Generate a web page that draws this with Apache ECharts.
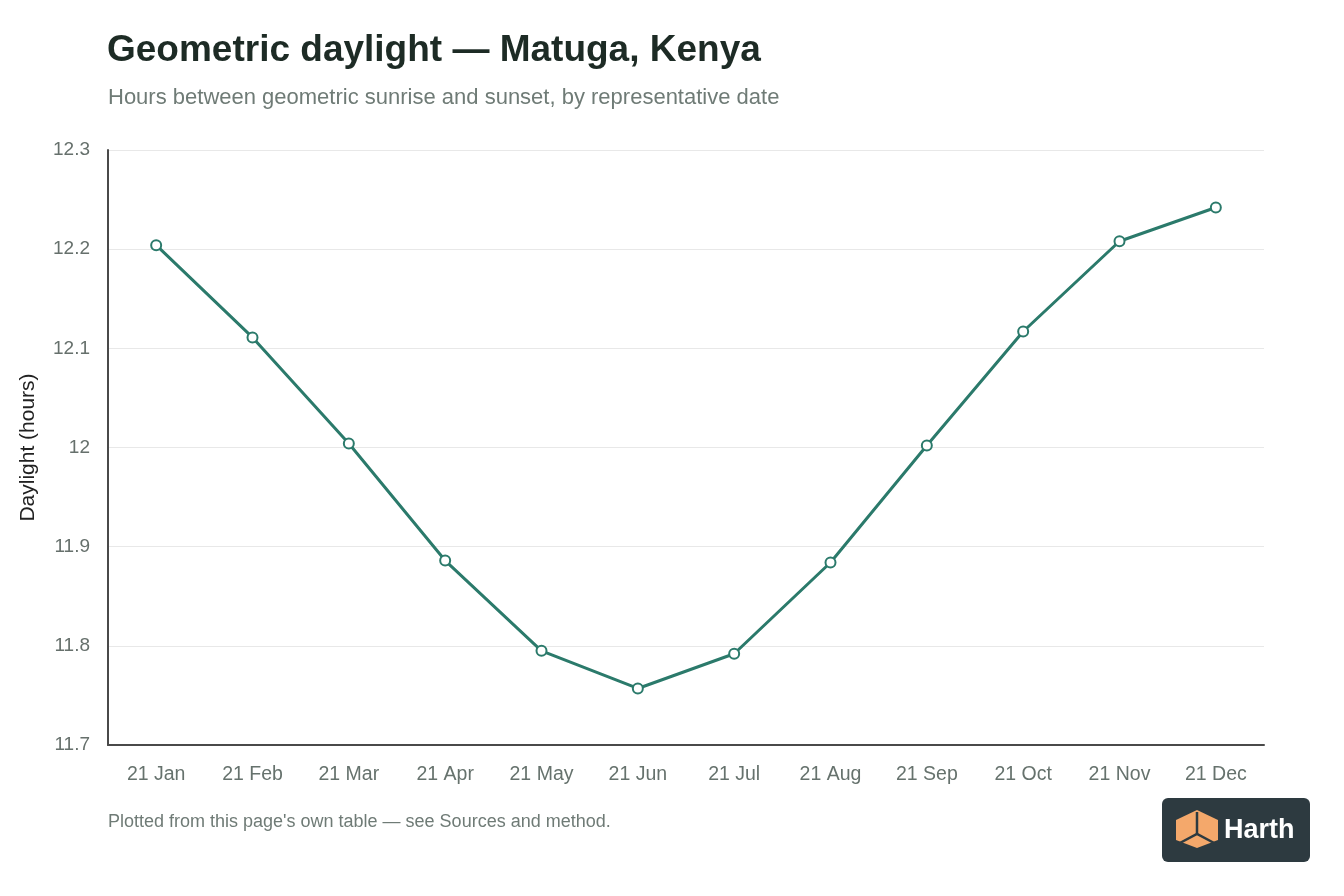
<!DOCTYPE html>
<html>
<head>
<meta charset="utf-8">
<script src="https://cdn.jsdelivr.net/npm/echarts@6/dist/echarts.min.js"></script>
<style>
  html, body { margin: 0; padding: 0; background: #fff; }
  #chart { width: 1344px; height: 896px; }
</style>
</head>
<body>
<div id="chart"></div>
<script>
// representative dates
const dates = ['21 Jan', '21 Feb', '21 Mar', '21 Apr', '21 May', '21 Jun',
  '21 Jul', '21 Aug', '21 Sep', '21 Oct', '21 Nov', '21 Dec'];
// hours of geometric daylight
const daylight = [12.204, 12.111, 12.004, 11.886, 11.795, 11.757,
  11.792, 11.884, 12.002, 12.117, 12.208, 12.242];
const yTicks = { min: 11.7, max: 12.3, step: 0.1 };

const chart = echarts.init(document.getElementById('chart'));
const fontFamily = '"Helvetica Neue", Helvetica, "Liberation Sans", Arial, sans-serif';

const options = {
  animation: false,
  textStyle: { fontFamily: fontFamily },
  title: [
    {
      text: 'Geometric daylight — Matuga, Kenya',
      left: 107,
      top: 32,
      padding: 0,
      textStyle: { fontSize: 37, fontWeight: 'bold', color: '#1d2b25', fontFamily: fontFamily }
    },
    {
      text: 'Hours between geometric sunrise and sunset, by representative date',
      left: 108,
      top: 87,
      padding: 0,
      textStyle: { fontSize: 22, fontWeight: 'normal', color: '#6f7b76', fontFamily: fontFamily }
    },
    {
      text: "Plotted from this page's own table — see Sources and method.",
      left: 108,
      top: 813,
      padding: 0,
      textStyle: { fontSize: 18, fontWeight: 'normal', color: '#6f7b76', fontFamily: fontFamily }
    }
  ],
  grid: {
    left: 108,
    right: 80,
    top: 150,
    bottom: 151,
    containLabel: false
  },
  xAxis: {
    type: 'category',
    data: dates,
    boundaryGap: true,
    axisLine: { lineStyle: { color: '#4a4a4a', width: 2 } },
    axisTick: { show: false },
    axisLabel: { color: '#66726d', fontSize: 19.5, margin: 20 }
  },
  yAxis: {
    type: 'value',
    min: yTicks.min,
    max: yTicks.max,
    interval: yTicks.step,
    name: 'Daylight (hours)',
    nameLocation: 'middle',
    nameGap: 69,
    nameTextStyle: { color: '#222', fontSize: 21 },
    axisLine: { show: true, lineStyle: { color: '#4a4a4a', width: 2 } },
    axisTick: { show: false },
    axisLabel: {
      color: '#66706c',
      fontSize: 19,
      margin: 18,
      formatter: (v) => String(Math.round(v * 10) / 10)
    },
    splitLine: { show: true, lineStyle: { color: '#e8e8e8', width: 1 } }
  },
  series: [
    {
      name: 'Daylight',
      type: 'line',
      data: daylight,
      symbol: 'emptyCircle',
      symbolSize: 10,
      showSymbol: true,
      lineStyle: { color: '#2b7a6b', width: 3 },
      itemStyle: { color: '#2b7a6b', borderColor: '#2b7a6b', borderWidth: 2.5 }
    }
  ],
  graphic: [
    {
      type: 'group',
      left: 1162,
      top: 798,
      children: [
        {
          type: 'rect',
          shape: { x: 0, y: 0, width: 148, height: 64, r: 6 },
          style: { fill: '#2d3a40' }
        },
        {
          type: 'polygon',
          shape: { points: [[35, 12], [56, 22], [56, 42], [35, 50], [14, 42], [14, 22]] },
          style: { fill: '#f4a86b' }
        },
        {
          type: 'polyline',
          shape: { points: [[35, 14], [35, 36]] },
          style: { stroke: '#2d3a40', lineWidth: 2.5, fill: null }
        },
        {
          type: 'polyline',
          shape: { points: [[16, 46], [35, 36], [54, 46]] },
          style: { stroke: '#2d3a40', lineWidth: 2.5, fill: null }
        },
        {
          type: 'text',
          style: {
            text: 'Harth',
            x: 62,
            y: 33,
            verticalAlign: 'middle',
            fill: '#ffffff',
            font: 'bold 27px ' + fontFamily
          }
        }
      ]
    }
  ]
};

chart.setOption(options);
</script>
</body>
</html>
